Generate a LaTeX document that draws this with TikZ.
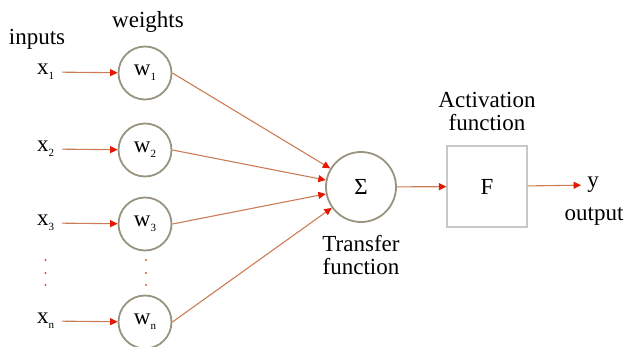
\documentclass[tikz,border=0pt]{standalone}
\usepackage{fontspec}
\setmainfont{Liberation Serif}
\newfontfamily\timesface{Liberation Serif}
\usepackage{tikz}
\usetikzlibrary{arrows.meta}
\usetikzlibrary{positioning}

\definecolor{linebrown}{RGB}{204,124,84}
\definecolor{tipred}{RGB}{228,24,0}
\definecolor{ringgrey}{RGB}{152,148,128}
\definecolor{boxgrey}{RGB}{200,200,196}

\newcommand{\lowsub}[1]{\raisebox{-0.45ex}{\fontsize{11}{11}\selectfont #1}}

\tikzset{
    weight/.style={circle,draw=ringgrey,line width=1.8pt,minimum size=53pt,inner sep=0pt},
    input/.style={inner xsep=8pt,inner ysep=0pt},
    label/.style={align=center,inner sep=0pt},
    link/.style={draw=linebrown,line width=1.1pt,-{Triangle[length=7.5pt,width=7pt,color=tipred]}},
    dotmark/.style={circle,fill=linebrown!60!tipred,draw=none,minimum size=2.3pt,inner sep=0pt}
}

\begin{document}
\begin{tikzpicture}[x=1pt,y=-1pt,font=\timesface\fontsize{23}{26}\selectfont]
        \useasboundingbox (0,0) rectangle (628,347);
        % weights
        \node [weight] (w1) at (145,73) {w\lowsub{1}};
        \node [weight] (w2) at (145,150) {w\lowsub{2}};
        \node [weight] (w3) at (145,224) {w\lowsub{3}};
        \node [weight] (wn) at (145,322) {w\lowsub{n}};
        \node [label] (wlab) at (148,22) {weights};
        % inputs
        \node [input] (x1) at (45.5,72) {x\lowsub{1}};
        \node [input] (x2) at (45.5,149) {x\lowsub{2}};
        \node [input] (x3) at (45.5,223) {x\lowsub{3}};
        \node [input] (xn) at (45.5,321) {x\lowsub{n}};
        \node [label] (inlab) at (37,39) {inputs};
        % dots
        \foreach \y in {260,273,285} {
            \node [dotmark] at (45.5,\y) {};
            \node [dotmark] at (146,\y) {};
        }
        % transfer and activation
        \node [circle,draw=ringgrey,line width=1.8pt,minimum size=70pt] (sum) at (361,187) {Σ};
        \node [label] (sumlab) [below=12pt of sum] {Transfer\\[-3pt]function};
        \node [rectangle,draw=boxgrey,line width=1.3pt,minimum width=80pt,minimum height=81pt] (F) at (487,186.5) {F};
        \node [label] (Flab) [above=14pt of F] {Activation\\[-3pt]function};
        \node [input,inner xsep=6pt] (y) at (593,185) {y};
        \node [label] (ylab) at (594,216) {output};
        \path
            (x1) edge [link] (w1)
            (x2) edge [link] (w2)
            (x3) edge [link] (w3)
            (xn) edge [link] (wn)
            (w1.east) edge [link] (sum)
            (w2.east) edge [link] (sum)
            (w3.east) edge [link] (sum)
            (wn.east) edge [link] (sum)
            (sum) edge [link] (F)
            (F) edge [link] (y);
    \end{tikzpicture}
\end{document}
